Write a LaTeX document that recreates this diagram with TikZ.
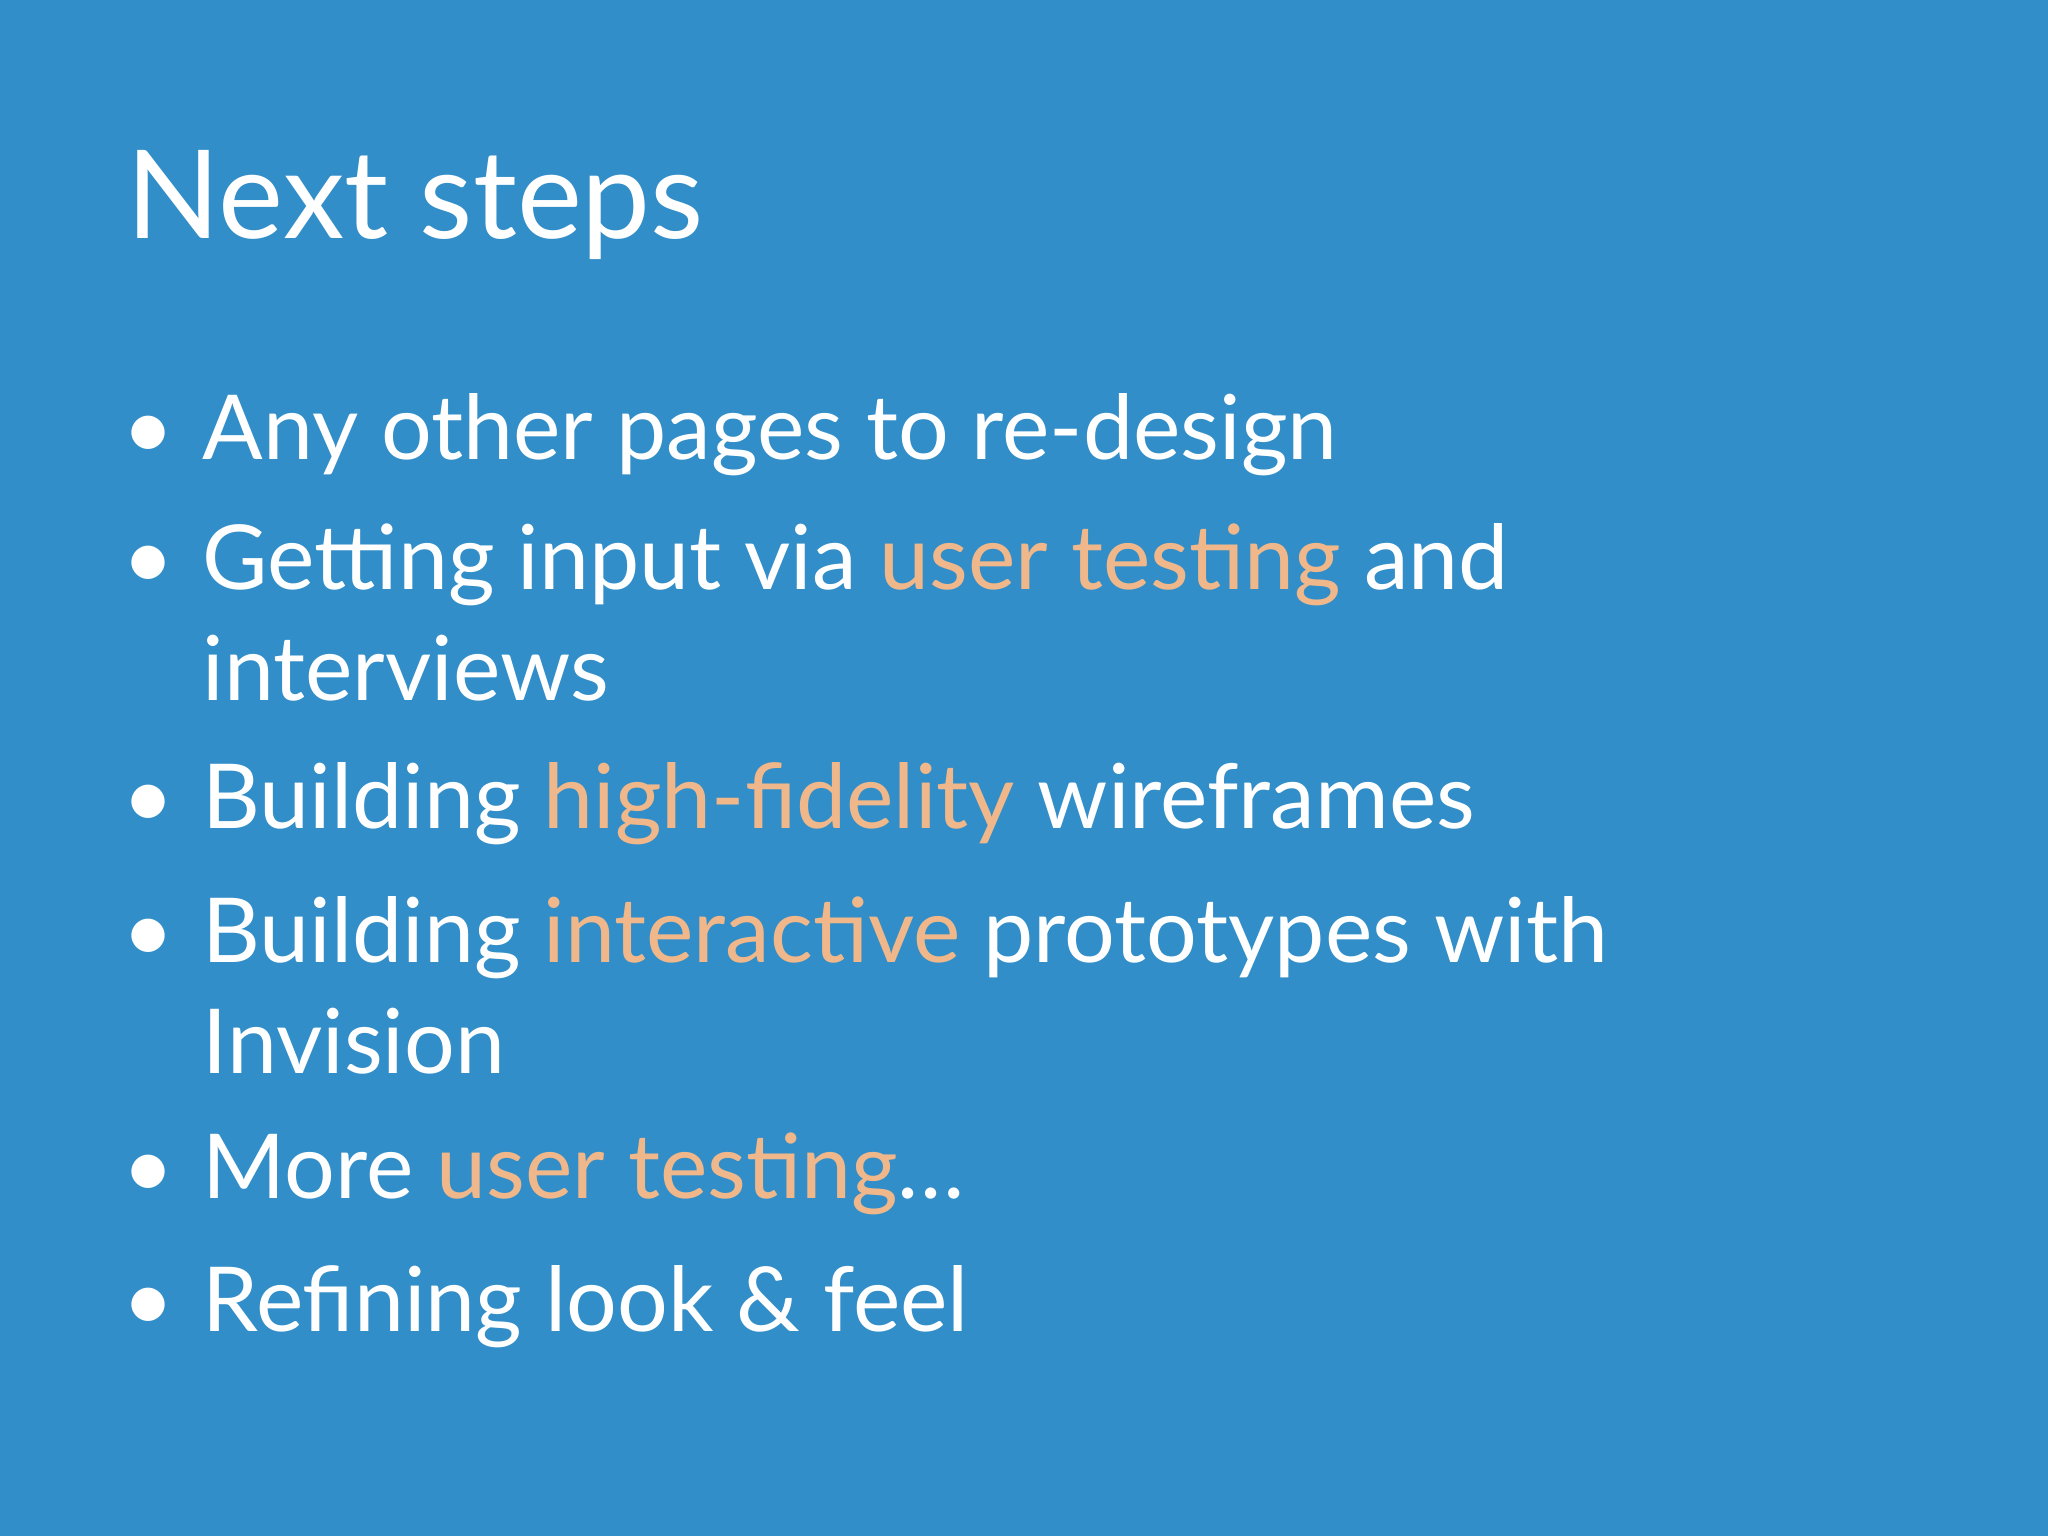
\documentclass[tikz,border=0pt]{standalone}
\usepackage{fontspec}
\setmainfont{Lato}
\definecolor{bg}{RGB}{50,142,200}
\definecolor{hl}{RGB}{240,184,138}
\begin{document}
\begin{tikzpicture}[x=1cm,y=1cm,
  txt/.style={anchor=base west,inner sep=0pt,text=white,font=\fontsize{25.5}{30}\selectfont},
  bul/.style={anchor=base west,inner sep=0pt,text=white,font=\fontsize{25.5}{30}\selectfont}]
\fill[bg] (0,0) rectangle (20.48,15.36);
\useasboundingbox (0,0) rectangle (20.48,15.36);
\node[anchor=base west,inner sep=0pt,text=white,font=\fontsize{35}{40}\selectfont] (title) at (1.26,12.97) {Next steps};
\node[bul] (b1) at (1.22,10.76) {•};
\node[txt] (l1) at (2.02,10.76) {Any other pages to re-design};
\node[bul] (b2) at (1.22,9.46) {•};
\node[txt] (l2) at (2.02,9.46) {Getting input via \textcolor{hl}{user testing} and};
\node[txt] (l2b) at (2.02,8.35) {interviews};
\node[bul] (b3) at (1.22,7.07) {•};
\node[txt] (l3) at (2.02,7.07) {Building \textcolor{hl}{high-fidelity} wireframes};
\node[bul] (b4) at (1.22,5.73) {•};
\node[txt] (l4) at (2.02,5.73) {Building \textcolor{hl}{interactive} prototypes with};
\node[txt] (l4b) at (2.02,4.62) {Invision};
\node[bul] (b5) at (1.22,3.37) {•};
\node[txt] (l5) at (2.02,3.37) {More \textcolor{hl}{user testing}…};
\node[bul] (b6) at (1.22,2.04) {•};
\node[txt] (l6) at (2.02,2.04) {Refining look \& feel};
\end{tikzpicture}
\end{document}
